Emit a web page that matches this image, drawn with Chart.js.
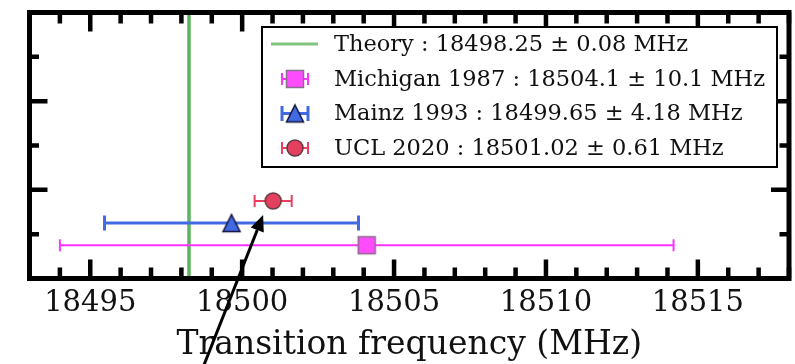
<!DOCTYPE html>
<html>
<head>
<meta charset="utf-8">
<script src="https://cdn.jsdelivr.net/npm/chart.js@4.4.1/dist/chart.umd.min.js"></script>
<style>
  body { margin: 0; background: #fff; }
  #wrap { width: 795px; height: 364px; }
</style>
</head>
<body>
<div id="wrap"><canvas id="chart" width="795" height="364"></canvas></div>
<script>
// measurements, one entry per experiment
const names = ['Michigan 1987', 'Mainz 1993', 'UCL 2020'];
const freqs = [18504.1, 18499.65, 18501.02];
const errs = [10.1, 4.18, 0.61];
const rows = [0.75, 1.25, 1.75];
const theoryValue = 18498.25;
const theoryErr = 0.08;

const xTicks = [18495, 18500, 18505, 18510, 18515];
const yMajorTicks = [2, 4];
const yMinorTicks = [1, 3, 5];

// annotation arrow, in data units (tail runs off the bottom of the figure)
const arrowTail = [18498.6, -2.2];
const arrowTip = [18500.69, 1.43];

const serif = '"DejaVu Serif", "Liberation Serif", serif';
const fillCols = ['#ff4cff', '#4169e1', '#e2405c'];
const edgeCols = ['#8c6c8c', '#14143c', '#5c3a42'];
const barCols = ['#ff33ff', '#4169e1', '#e8405e'];
const barWidths = [2, 3, 2];
const capHalf = [6, 7.5, 6];
const theoryCol = 'rgb(95,178,95)';

// marker images, drawn like matplotlib markers
function makeMarker(i) {
    const c = document.createElement('canvas');
    c.width = 24; c.height = 24;
    const g = c.getContext('2d');
    g.fillStyle = fillCols[i];
    g.strokeStyle = edgeCols[i];
    g.lineWidth = 1.5;
    g.beginPath();
    if (i === 0) {
        g.rect(3.5, 3.5, 17, 17);
    } else if (i === 1) {
        g.moveTo(12, 3.5);
        g.lineTo(20.5, 20.5);
        g.lineTo(3.5, 20.5);
        g.closePath();
    } else {
        g.arc(12, 12, 8, 0, Math.PI * 2);
    }
    g.fill();
    g.stroke();
    return c;
}
const markers = names.map((n, i) => makeMarker(i));

function errorBar(ctx, x0, x1, y, i) {
    ctx.save();
    ctx.strokeStyle = barCols[i];
    ctx.lineWidth = barWidths[i];
    ctx.beginPath();
    ctx.moveTo(x0, y); ctx.lineTo(x1, y);
    ctx.moveTo(x0, y - capHalf[i]); ctx.lineTo(x0, y + capHalf[i]);
    ctx.moveTo(x1, y - capHalf[i]); ctx.lineTo(x1, y + capHalf[i]);
    ctx.stroke();
    ctx.restore();
}

const errorBarPlugin = {
    id: 'errorBars',
    afterDatasetDraw(chart, args) {
        if (args.index !== 0) return;
        const x = chart.scales.x, y = chart.scales.y;
        const ctx = chart.ctx;
        names.forEach((n, i) => {
            errorBar(ctx, x.getPixelForValue(freqs[i] - errs[i]), x.getPixelForValue(freqs[i] + errs[i]),
                     y.getPixelForValue(rows[i]), i);
        });
    }
};

const framePlugin = {
    id: 'frame',
    afterDraw(chart) {
        const ctx = chart.ctx;
        const a = chart.chartArea;
        const x = chart.scales.x, y = chart.scales.y;
        ctx.save();
        ctx.strokeStyle = '#000';
        ctx.lineWidth = 4.5;
        ctx.beginPath();
        // x ticks, bottom and top, pointing in
        for (let v = Math.ceil(x.min); v <= x.max; v++) {
            const px = x.getPixelForValue(v);
            const len = xTicks.includes(v) ? 19 : 11;
            ctx.moveTo(px, a.bottom); ctx.lineTo(px, a.bottom - len);
            ctx.moveTo(px, a.top); ctx.lineTo(px, a.top + len);
        }
        yMajorTicks.concat(yMinorTicks).forEach(v => {
            const py = y.getPixelForValue(v);
            const len = yMajorTicks.includes(v) ? 18 : 9.5;
            ctx.moveTo(a.left, py); ctx.lineTo(a.left + len, py);
            ctx.moveTo(a.right, py); ctx.lineTo(a.right - len, py);
        });
        ctx.stroke();
        ctx.lineWidth = 5;
        ctx.strokeRect(a.left, a.top, a.right - a.left, a.bottom - a.top);

        // legend
        const lx = 262, ly = 27, lw = 515, lh = 140;
        ctx.fillStyle = '#fff';
        ctx.fillRect(lx, ly, lw, lh);
        ctx.lineWidth = 2;
        ctx.strokeRect(lx, ly, lw, lh);
        const rowY = [44, 79, 113.5, 148];
        const symX = 295, textX = 334;
        ctx.font = '22.5px ' + serif;
        ctx.fillStyle = '#111';
        ctx.textBaseline = 'middle';
        ctx.textAlign = 'left';
        ctx.fillText('Theory : ' + theoryValue + ' \u00b1 ' + theoryErr + ' MHz', textX, rowY[0] + 1);
        ctx.strokeStyle = 'rgb(128,196,128)';
        ctx.lineWidth = 3;
        ctx.beginPath();
        ctx.moveTo(271, rowY[0]); ctx.lineTo(318, rowY[0]);
        ctx.stroke();
        names.forEach((n, i) => {
            const ry = rowY[i + 1];
            errorBar(ctx, symX - 13, symX + 13, ry, i);
            ctx.drawImage(markers[i], symX - 12, ry - 12);
            ctx.fillStyle = '#111';
            ctx.fillText(n + ' : ' + freqs[i] + ' \u00b1 ' + errs[i] + ' MHz', textX, ry + 1);
        });

        // arrow
        const tx = x.getPixelForValue(arrowTail[0]), ty = y.getPixelForValue(arrowTail[1]);
        const hx = x.getPixelForValue(arrowTip[0]), hy = y.getPixelForValue(arrowTip[1]);
        const ang = Math.atan2(hy - ty, hx - tx);
        const headLen = 16, headHalf = 7;
        const bx = hx - Math.cos(ang) * headLen, by = hy - Math.sin(ang) * headLen;
        ctx.strokeStyle = '#000';
        ctx.fillStyle = '#000';
        ctx.lineWidth = 3;
        ctx.beginPath();
        ctx.moveTo(tx, ty); ctx.lineTo(bx, by);
        ctx.stroke();
        ctx.beginPath();
        ctx.moveTo(hx, hy);
        ctx.lineTo(bx - Math.sin(ang) * headHalf, by + Math.cos(ang) * headHalf);
        ctx.lineTo(bx + Math.sin(ang) * headHalf, by - Math.cos(ang) * headHalf);
        ctx.closePath();
        ctx.fill();
        ctx.restore();
    }
};

const datasets = [{
    label: 'Theory',
    type: 'line',
    data: [{x: theoryValue, y: 0}, {x: theoryValue, y: 6}],
    borderColor: theoryCol,
    borderWidth: 3.5,
    pointRadius: 0,
    order: 10
}];
names.forEach((n, i) => {
    datasets.push({
        label: n,
        type: 'scatter',
        data: [{x: freqs[i], y: rows[i]}],
        pointStyle: markers[i],
        order: 0
    });
});

new Chart(document.getElementById('chart'), {
    type: 'scatter',
    data: { datasets: datasets },
    plugins: [errorBarPlugin, framePlugin],
    options: {
        responsive: false,
        animation: false,
        events: [],
        layout: { padding: { left: 29.5, right: 6, top: 12.5, bottom: 0 } },
        plugins: { legend: { display: false }, tooltip: { enabled: false } },
        scales: {
            x: {
                type: 'linear',
                min: 18493,
                max: 18518,
                afterBuildTicks: s => { s.ticks = xTicks.map(v => ({ value: v })); },
                afterFit: s => { s.height = 85.5; },
                grid: { display: false, drawTicks: false },
                border: { display: false },
                ticks: {
                    color: '#111',
                    padding: 8,
                    maxRotation: 0,
                    font: { family: serif, size: 29 },
                    callback: v => String(v)
                },
                title: {
                    display: true,
                    text: 'Transition frequency (MHz)',
                    color: '#111',
                    padding: 0,
                    font: { family: serif, size: 33, lineHeight: 1.1 }
                }
            },
            y: {
                type: 'linear',
                min: 0,
                max: 6,
                display: false
            }
        }
    }
});
</script>
</body>
</html>
